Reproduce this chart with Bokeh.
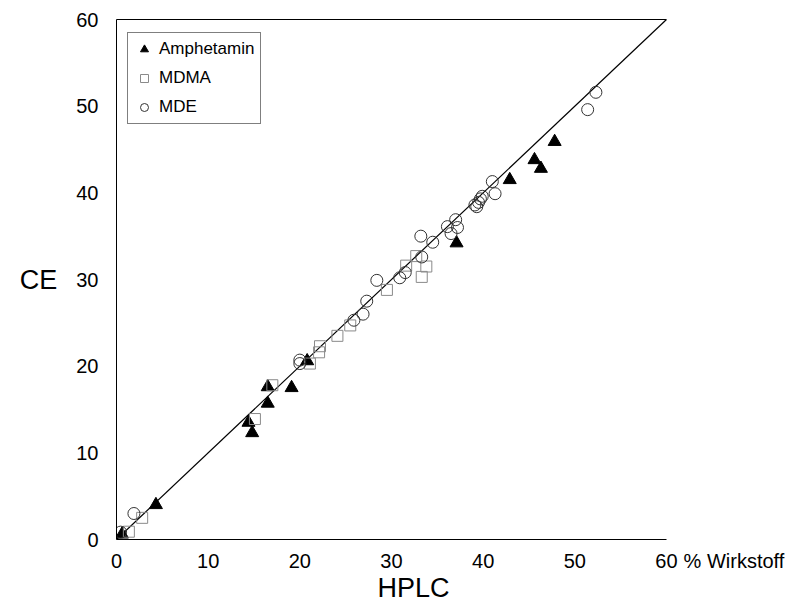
from bokeh.plotting import figure
from bokeh.models import Range1d, Legend, LegendItem, Title, LinearAxis, FixedTicker
from bokeh.embed import file_html
from bokeh.resources import INLINE

# ---- data ----
amph_x = [0.6, 4.3, 14.4, 14.8, 16.5, 16.5, 19.1, 20.8, 37.1, 42.9, 45.6, 46.3, 47.8]
amph_y = [0.6, 4.0, 13.5, 12.3, 15.7, 17.6, 17.5, 20.6, 34.2, 41.5, 43.8, 42.8, 45.9]

mdma_x = [1.35, 2.8, 15.1, 17.0, 21.1, 22.1, 22.2, 24.1, 25.5, 29.5, 31.6, 32.7, 33.8, 33.3]
mdma_y = [0.9, 2.5, 13.9, 17.8, 20.3, 21.6, 22.3, 23.5, 24.7, 28.8, 31.6, 32.7, 31.5, 30.3]

mde_x = [0.45, 1.9, 20.0, 20.0, 25.9, 26.9, 27.3, 28.4, 30.9, 31.5, 33.3, 33.2, 34.5,
         36.1, 36.5, 37.2, 37.0, 39.1, 39.3, 39.5, 39.7, 39.9, 41.3, 41.0, 51.4, 52.3]
mde_y = [0.85, 3.0, 20.3, 20.7, 25.3, 26.0, 27.5, 29.9, 30.2, 30.8, 32.6, 35.0, 34.3,
         36.1, 35.3, 36.0, 36.9, 38.6, 38.4, 38.9, 39.3, 39.6, 39.9, 41.3, 49.6, 51.6]

fit_x = [0, 60]
fit_y = [0, 60]

x_ticks = [0, 10, 20, 30, 40, 50, 60]
y_ticks = [0, 10, 20, 30, 40, 50, 60]
unit_pos = 67.36
unit_label = "% Wirkstoff"

FONT = "Liberation Sans"

p = figure(width=800, height=608, x_range=Range1d(0, 74.62), y_range=Range1d(0, 60),
           output_backend="svg", toolbar_location=None,
           min_border_left=116, min_border_right=0, min_border_top=19, min_border_bottom=69)

p.xgrid.visible = False
p.ygrid.visible = False
p.outline_line_color = None
p.background_fill_color = "white"
p.border_fill_color = "white"

# main x axis: tick labels only (line drawn by bounded axis)
xa = p.xaxis[0]
xa.axis_line_color = None
xa.ticker = FixedTicker(ticks=x_ticks + [unit_pos])
xa.major_label_overrides = {unit_pos: unit_label}

ya = p.yaxis[0]
ya.axis_line_color = "black"
ya.ticker = FixedTicker(ticks=y_ticks)

for ax in (xa, ya):
    ax.major_tick_line_color = None
    ax.minor_tick_line_color = None
    ax.major_label_text_font = FONT
    ax.major_label_text_font_size = "20px"
    ax.major_label_text_color = "black"
ya.major_label_standoff = 12
xa.major_label_standoff = 4

# bounded axis lines (bottom and top) from 0 to 60
def line_axis():
    a = LinearAxis(bounds=(0, 60), ticker=FixedTicker(ticks=[]), axis_line_color="black",
                   axis_line_width=1, major_tick_out=0, major_tick_in=0, minor_tick_out=0,
                   minor_tick_in=0, major_label_standoff=0, major_label_text_font_size="0px")
    return a

bottom_line = line_axis()
top_line = line_axis()
p.add_layout(top_line, "above")
p.below = [bottom_line] + list(p.below)

# y axis label "CE", horizontal
ya.axis_label = "CE"
ya.axis_label_orientation = "horizontal"
ya.axis_label_text_font = FONT
ya.axis_label_text_font_size = "27px"
ya.axis_label_text_font_style = "normal"
ya.axis_label_text_color = "black"
ya.axis_label_standoff = 16

# x axis title "HPLC" below, shifted right
p.add_layout(Title(text="HPLC", align="left", offset=261, vertical_align="top",
                   text_font=FONT, text_font_size="27px", text_font_style="normal",
                   text_color="black", standoff=-3), "below")

p.line(fit_x, fit_y, line_color="black", line_width=1.2)

r_a = p.scatter(amph_x, amph_y, marker="triangle", size=13, fill_color="black", line_color="black")
r_s = p.scatter(mdma_x, mdma_y, marker="square", size=11, fill_color=None, line_color="#8a8a8a", line_width=1)
r_c = p.scatter(mde_x, mde_y, marker="circle", size=12, fill_color=None, line_color="#333333", line_width=1)

legend = Legend(items=[LegendItem(label="Amphetamin", renderers=[r_a]),
                       LegendItem(label="MDMA", renderers=[r_s]),
                       LegendItem(label="MDE", renderers=[r_c])],
                location=(11, 415), border_line_color="black", border_line_width=1,
                background_fill_color="white", background_fill_alpha=1.0,
                label_text_font=FONT, label_text_font_size="17px", label_text_color="black",
                glyph_width=20, glyph_height=20, label_height=20, spacing=9,
                padding=6, label_standoff=5, margin=0)
p.add_layout(legend)

open("out.html", "w").write(file_html(p, INLINE))
